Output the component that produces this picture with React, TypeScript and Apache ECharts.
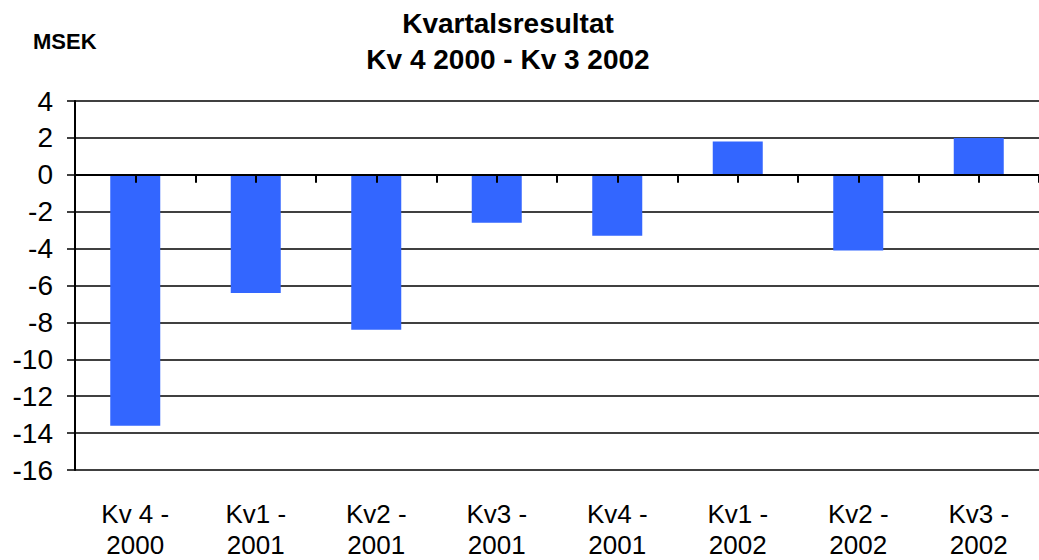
import React, { useEffect, useRef } from "react";
import * as echarts from "echarts";

const categories = [
  "Kv 4 -\n2000",
  "Kv1 -\n2001",
  "Kv2 -\n2001",
  "Kv3 -\n2001",
  "Kv4 -\n2001",
  "Kv1 -\n2002",
  "Kv2 -\n2002",
  "Kv3 -\n2002",
];
const values = [-13.6, -6.4, -8.4, -2.6, -3.3, 1.8, -4.1, 2.0];
const titleLines = ["Kvartalsresultat", "Kv 4 2000 - Kv 3 2002"];
const unitLabel = "MSEK";
const yMin = -16;
const yMax = 4;
const yInterval = 2;

const FONT = "Arial, 'Liberation Sans', Helvetica, sans-serif";

export default function App() {
  const ref = useRef<HTMLDivElement>(null);
  useEffect(() => {
    if (!ref.current) return;
    const chart = echarts.init(ref.current, undefined, { renderer: "svg" });
    // half-category slots so ticks fall on both category centres and boundaries
    const halfSlots = categories.flatMap(() => ["", ""]);
    chart.setOption({
      animation: false,
      backgroundColor: "#ffffff",
      title: {
        text: titleLines.join("\n"),
        left: 503,
        textAlign: "center",
        top: 0,
        textStyle: {
          fontFamily: FONT,
          fontSize: 28,
          fontWeight: "bold",
          color: "#000",
          lineHeight: 36,
        },
      },
      graphic: [
        {
          type: "text",
          left: 33,
          top: 30,
          style: {
            text: unitLabel,
            fontFamily: FONT,
            fontSize: 22,
            fontWeight: "bold",
            fill: "#000",
          },
        },
      ],
      grid: { left: 75, top: 101, width: 972, height: 375, containLabel: false },
      xAxis: [
        {
          type: "category",
          data: categories,
          position: "bottom",
          axisLine: { show: false, onZero: false },
          axisTick: { show: false },
          splitLine: { show: false },
          axisLabel: {
            interval: 0,
            margin: 28,
            fontFamily: FONT,
            fontSize: 26,
            lineHeight: 31,
            color: "#000",
          },
        },
        {
          type: "category",
          data: halfSlots,
          position: "bottom",
          boundaryGap: true,
          z: 5,
          axisLine: { show: true, onZero: true, lineStyle: { color: "#000", width: 2 } },
          axisTick: { show: true, interval: 0, length: 8, inside: false, lineStyle: { color: "#000", width: 2 } },
          axisLabel: { show: false },
          splitLine: { show: false },
        },
      ],
      yAxis: {
        type: "value",
        min: yMin,
        max: yMax,
        interval: yInterval,
        axisLine: { show: true, lineStyle: { color: "#000", width: 2 } },
        axisTick: { show: true, length: 8, inside: false, lineStyle: { color: "#000", width: 1.5 } },
        splitLine: { show: true, lineStyle: { color: "#000", width: 1.5 } },
        axisLabel: {
          margin: 22,
          fontFamily: FONT,
          fontSize: 28,
          color: "#000",
        },
      },
      series: [
        {
          type: "bar",
          xAxisIndex: 0,
          data: values,
          barWidth: 50,
          itemStyle: { color: "#3366FF" },
        },
      ],
    });
    return () => chart.dispose();
  }, []);
  return (
    <div
      ref={ref}
      style={{ position: "fixed", left: 0, top: 0, width: 1039, height: 560 }}
    />
  );
}
